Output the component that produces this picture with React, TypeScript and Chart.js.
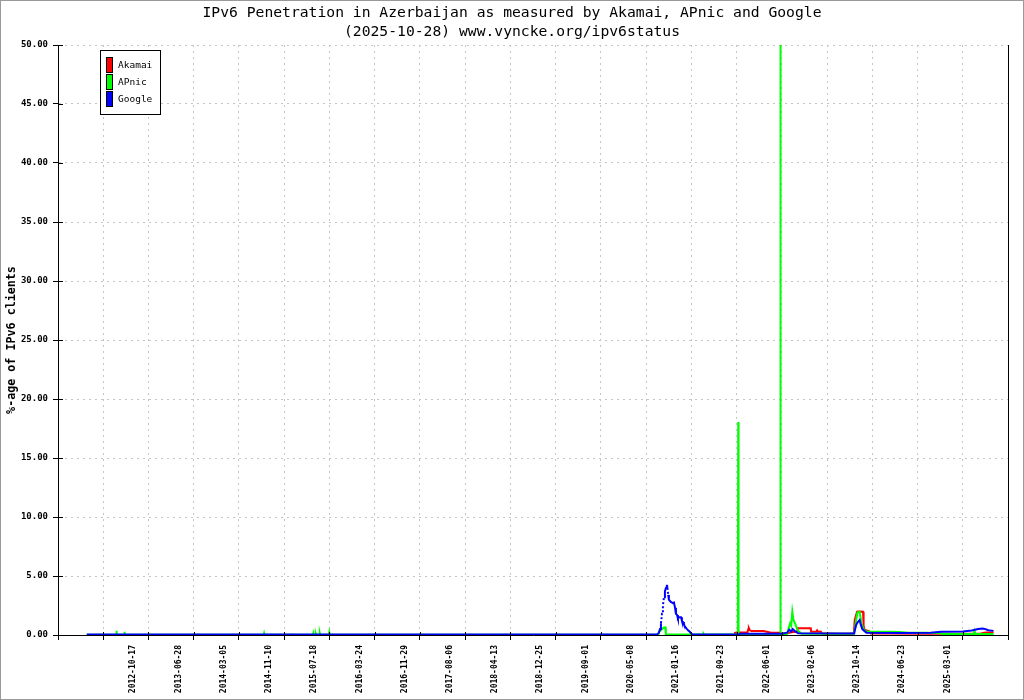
import React, { useEffect, useRef } from 'react';
import { Chart, registerables } from 'chart.js';

Chart.register(...registerables);

const titleLines = [
  'IPv6 Penetration in Azerbaijan as measured by Akamai, APnic and Google',
  '(2025-10-28) www.vyncke.org/ipv6status',
];
const yTitle = '%-age of IPv6 clients';

// x axis = sample index, one labelled tick every 250 samples
const tickStep = 250;
const tickLabels = [
  '', '2012-10-17', '2013-06-28', '2014-03-05', '2014-11-10', '2015-07-18',
  '2016-03-24', '2016-11-29', '2017-08-06', '2018-04-13', '2018-12-25',
  '2019-09-01', '2020-05-08', '2021-01-16', '2021-09-23', '2022-06-01',
  '2023-02-06', '2023-10-14', '2024-06-23', '2025-03-01', '', '',
];

const seriesNames = ['Akamai', 'APnic', 'Google'];
const seriesColors = ['#ff0000', '#00ff00', '#0000ff'];

const akamai: [number, number][] = [
  [3737, 0.15], [3748, 0.22], [3810, 0.22], [3815, 0.5], [3818, 0.57], [3823, 0.4],
  [3832, 0.33], [3900, 0.33], [3940, 0.2], [3990, 0.2], [4003, 0.1], [4030, 0.15],
  [4060, 0.25], [4084, 0.25], [4086, 0.57], [4160, 0.57], [4162, 0.28], [4190, 0.28],
  [4195, 0.4], [4200, 0.28], [4215, 0.3], [4225, 0.1], [4260, 0.12], [4300, 0.1],
  [4370, 0.1], [4398, 0.15], [4403, 1.27], [4416, 1.97], [4430, 2.0], [4449, 1.97],
  [4452, 0.76], [4456, 0.5], [4471, 0.36], [4484, 0.3], [4492, 0.12], [4600, 0.12],
  [4800, 0.1], [5000, 0.1], [5100, 0.12], [5126, 0.22], [5170, 0.22],
];

const apnic: [number, number][] = [
  [159, 0.02], [321, 0.02], [323, 0.35], [325, 0.02], [365, 0.02], [367, 0.28],
  [369, 0.02], [1137, 0.02], [1139, 0.15], [1141, 0.02], [1178, 0.02], [1180, 0.12],
  [1182, 0.02], [1294, 0.02], [1296, 0.12], [1298, 0.02], [1409, 0.02], [1411, 0.15],
  [1413, 0.02], [1423, 0.02], [1425, 0.12], [1427, 0.02], [1445, 0.02], [1447, 0.15],
  [1449, 0.02], [1497, 0.02], [1499, 0.2], [1501, 0.02], [3318, 0.02], [3322, 0.3],
  [3333, 0.4], [3345, 0.6], [3356, 0.65], [3359, 0.05], [3566, 0.05], [3568, 0.1],
  [3570, 0.05], [3757, 0.05], [3759, 18.05], [3761, 0.05], [3990, 0.05], [3992, 55],
  [3994, 0.05], [4030, 0.1], [4040, 0.7], [4046, 1.0], [4052, 0.8], [4058, 1.97],
  [4064, 1.3], [4075, 0.9], [4086, 0.45], [4097, 0.25], [4110, 0.1], [4398, 0.1],
  [4405, 0.6], [4412, 1.4], [4418, 1.9], [4430, 1.97], [4440, 1.0], [4451, 0.5],
  [4468, 0.3], [4600, 0.28], [4650, 0.25], [4700, 0.2], [4800, 0.2], [4880, 0.15],
  [4890, 0.08], [5060, 0.08], [5065, 0.35], [5070, 0.08], [5170, 0.08],
];

const google: [number, number][] = [
  [159, 0.05], [3310, 0.05], [3321, 0.2], [3327, 0.5], [3332, 1.0], [3338, 1.8],
  [3343, 2.5], [3349, 3.2], [3354, 3.7], [3360, 4.0], [3365, 4.25], [3368, 4.0],
  [3372, 3.4], [3376, 3.0], [3381, 2.9], [3387, 2.8], [3398, 2.7], [3404, 2.75],
  [3410, 2.3], [3415, 1.8], [3421, 1.7], [3426, 1.4], [3432, 1.5], [3443, 1.5],
  [3448, 1.2], [3454, 1.1], [3459, 0.9], [3465, 0.7], [3476, 0.5], [3482, 0.4],
  [3493, 0.25], [3504, 0.05], [3760, 0.05], [3770, 0.1], [4000, 0.1], [4030, 0.2],
  [4041, 0.45], [4052, 0.3], [4060, 0.5], [4075, 0.3], [4090, 0.15], [4400, 0.12],
  [4405, 0.5], [4412, 0.9], [4420, 1.1], [4430, 1.27], [4436, 0.9], [4445, 0.5],
  [4456, 0.35], [4468, 0.2], [4650, 0.18], [4822, 0.2], [4880, 0.28], [5000, 0.3],
  [5050, 0.38], [5085, 0.5], [5110, 0.55], [5126, 0.5], [5140, 0.4], [5170, 0.35],
];

const mono = 'DejaVu Sans Mono';

const decorPlugin = {
  id: 'decor',
  beforeDraw: (chart: Chart) => {
    const ctx = chart.ctx;
    ctx.save();
    ctx.fillStyle = '#ffffff';
    ctx.fillRect(0, 0, chart.width, chart.height);
    ctx.restore();
  },
  afterDraw: (chart: Chart) => {
    const ctx = chart.ctx;
    const area = chart.chartArea;
    const xs: any = chart.scales.x;
    const ys: any = chart.scales.y;
    ctx.save();

    // title
    ctx.fillStyle = '#000';
    ctx.font = `14.7px "${mono}"`;
    ctx.textAlign = 'center';
    ctx.textBaseline = 'middle';
    ctx.fillText(titleLines[0], chart.width / 2, 13);
    ctx.fillText(titleLines[1], chart.width / 2, 32);

    // right frame of the plot + inner halves of the tick marks
    ctx.strokeStyle = '#000';
    ctx.lineWidth = 1;
    ctx.beginPath();
    const rx = Math.round(area.right) + 0.5;
    ctx.moveTo(rx, area.top);
    ctx.lineTo(rx, area.bottom);
    ys.ticks.forEach((t: any) => {
      const py = Math.round(ys.getPixelForValue(t.value)) + 0.5;
      ctx.moveTo(area.left, py);
      ctx.lineTo(area.left + 5, py);
    });
    xs.ticks.forEach((t: any) => {
      const px = Math.round(xs.getPixelForValue(t.value)) + 0.5;
      ctx.moveTo(px, area.bottom);
      ctx.lineTo(px, area.bottom - 3);
    });
    ctx.stroke();

    // legend box
    ctx.fillStyle = '#fff';
    ctx.fillRect(100.5, 50.5, 60, 64);
    ctx.strokeRect(100.5, 50.5, 60, 64);
    ctx.font = `9.5px "${mono}"`;
    ctx.textAlign = 'left';
    seriesNames.forEach((name, i) => {
      const y = 57.5 + i * 17;
      ctx.fillStyle = seriesColors[i];
      ctx.fillRect(106.5, y, 6, 15);
      ctx.strokeStyle = '#000';
      ctx.strokeRect(106.5, y, 6, 15);
      ctx.fillStyle = '#000';
      ctx.fillText(name, 118, y + 8);
    });

    // image frame
    ctx.strokeStyle = '#999';
    ctx.strokeRect(0.5, 0.5, chart.width - 1, chart.height - 1);
    ctx.restore();
  },
};

export default function App() {
  const canvasRef = useRef<HTMLCanvasElement>(null);
  const chartRef = useRef<Chart | null>(null);

  useEffect(() => {
    if (!canvasRef.current) return;
    if (chartRef.current) chartRef.current.destroy();

    const series = [akamai, apnic, google];
    chartRef.current = new Chart(canvasRef.current, {
      type: 'line',
      data: {
        datasets: series.map((d, i) => ({
          label: seriesNames[i],
          data: d as any,
          borderColor: seriesColors[i],
          backgroundColor: seriesColors[i],
          borderWidth: 2,
          pointRadius: 0,
          fill: false,
          order: 3 - i,
          segment: i === 2 ? {
            borderDash: (c: any) => {
              const dx = Math.abs(c.p1.x - c.p0.x);
              const dy = Math.abs(c.p1.y - c.p0.y);
              return dy > 6 && dy > 2 * dx ? [2, 2] : undefined;
            },
          } : undefined,
        })),
      },
      options: {
        animation: false,
        responsive: false,
        devicePixelRatio: 1,
        layout: { padding: { top: 45, right: 16, left: 0, bottom: 0 } },
        plugins: {
          legend: { display: false },
          tooltip: { enabled: false },
          title: { display: false },
        },
        scales: {
          x: {
            type: 'linear',
            min: 0,
            max: tickStep * (tickLabels.length - 1),
            afterFit: (s: any) => { s.height = 65; },
            ticks: {
              stepSize: tickStep,
              autoSkip: false,
              minRotation: 90,
              maxRotation: 90,
              labelOffset: 30,
              padding: 5,
              color: '#000',
              font: { family: mono, size: 8, weight: 'bold' },
              callback: (v: any) => tickLabels[Math.round(Number(v) / tickStep)] ?? '',
            },
            grid: { color: '#c4c4c4', tickColor: '#000', tickLength: 5 },
            border: { display: true, color: '#000', width: 1, dash: [2, 4] },
          },
          y: {
            min: 0,
            max: 50,
            afterFit: (s: any) => { s.width = 58; },
            ticks: {
              stepSize: 5,
              padding: 5,
              color: '#000',
              font: { family: mono, size: 9, weight: 'bold' },
              callback: (v: any) => Number(v).toFixed(2),
            },
            grid: { color: '#c4c4c4', tickColor: '#000', tickLength: 5 },
            border: { display: true, color: '#000', width: 1, dash: [2, 4] },
            title: {
              display: true,
              text: yTitle,
              color: '#000',
              font: { family: mono, size: 11.7, weight: 'bold', lineHeight: 1.2 },
              padding: { top: 5, bottom: 0 },
            },
          },
        },
      },
      plugins: [decorPlugin],
    });

    return () => {
      if (chartRef.current) {
        chartRef.current.destroy();
        chartRef.current = null;
      }
    };
  }, []);

  return (
    <div style={{ position: 'fixed', left: 0, top: 0, width: 1024, height: 700 }}>
      <canvas ref={canvasRef} width={1024} height={700} />
    </div>
  );
}
